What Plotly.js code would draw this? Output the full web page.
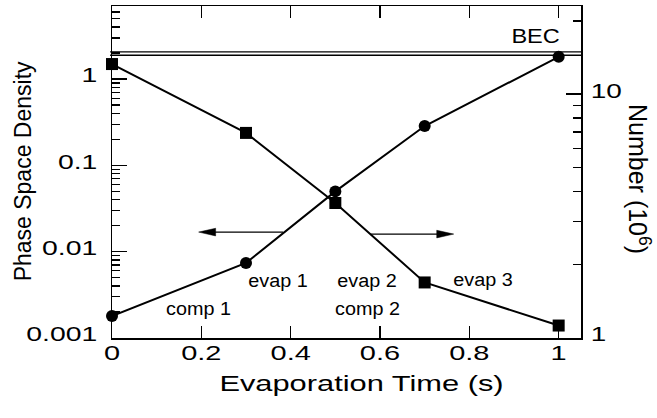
<!DOCTYPE html>
<html>
<head>
<meta charset="utf-8">
<script src="https://cdn.plot.ly/plotly-3.0.1.min.js"></script>
<style>
  html, body { margin: 0; padding: 0; background: #fff; }
  #chart { width: 657px; height: 418px; }
</style>
</head>
<body>
<div id="chart"></div>
<script>
// Evaporation sequence: time (s) vs phase space density and atom number
const evapTime = [0, 0.3, 0.5, 0.7, 1];
const phaseSpaceDensity = [0.0018, 0.0074, 0.05, 0.286, 1.81];
const atomNumber = [13.3, 6.94, 3.58, 1.69, 1.125];   // in units of 10^6

const xTickVals = [0, 0.2, 0.4, 0.6, 0.8, 1];
const xTickText = ['0', '0.2', '0.4', '0.6', '0.8', '1'];
const psdTickVals = [0.001, 0.01, 0.1, 1];
const psdTickText = ['0.001', '0.01', '0.1', '1'];
const numTickVals = [1, 10];
const numTickText = ['1', '10'];

// BEC threshold band (phase space density)
const becLevels = [1.89, 2.07];

// minor log ticks at 2..9 within each decade
function minorTicks(fromExp, toExp) {
  const out = [];
  for (let e = fromExp; e <= toExp; e++) {
    for (let m = 2; m <= 9; m++) out.push(m * Math.pow(10, e));
  }
  return out;
}

const FONT = 'Liberation Sans, Arial, Helvetica, sans-serif';
const BLACK = '#000';

const traces = [
  {
    x: evapTime, y: phaseSpaceDensity, yaxis: 'y',
    type: 'scatter', mode: 'lines+markers', cliponaxis: false,
    line: { color: BLACK, width: 2 },
    marker: { symbol: 'circle', size: 12, color: BLACK }
  },
  {
    x: evapTime, y: atomNumber, yaxis: 'y2',
    type: 'scatter', mode: 'lines+markers', cliponaxis: false,
    line: { color: BLACK, width: 2 },
    marker: { symbol: 'square', size: 12, color: BLACK }
  }
];

const shapes = becLevels.map(v => ({
  type: 'line', xref: 'paper', yref: 'y',
  x0: -0.004, x1: 1.004, y0: v, y1: v,
  line: { color: BLACK, width: 1.3 }
}));

// direction arrows: left one points at the density axis, right one at the number axis
shapes.push(
  { type: 'line', xref: 'x', yref: 'paper', x0: 0.225, x1: 0.383, y0: 0.319, y1: 0.319,
    line: { color: BLACK, width: 1.3 } },
  { type: 'path', xref: 'x', yref: 'paper',
    path: 'M0.194,0.319 L0.232,0.3305 L0.232,0.3075 Z',
    fillcolor: BLACK, line: { color: BLACK, width: 0.5 } },
  { type: 'line', xref: 'x', yref: 'paper', x0: 0.578, x1: 0.735, y0: 0.313, y1: 0.313,
    line: { color: BLACK, width: 1.3 } },
  { type: 'path', xref: 'x', yref: 'paper',
    path: 'M0.765,0.313 L0.727,0.3245 L0.727,0.3015 Z',
    fillcolor: BLACK, line: { color: BLACK, width: 0.5 } }
);

function label(text, x, y, size) {
  return { text: text, xref: 'x', yref: 'paper', x: x, y: y,
    xanchor: 'center', yanchor: 'middle', showarrow: false,
    font: { family: FONT, size: size, color: BLACK } };
}

const annotations = [
  { text: 'Evaporation Time (s)', xref: 'paper', yref: 'paper', x: 0.531, y: -0.138,
    xanchor: 'center', yanchor: 'middle', showarrow: false,
    font: { family: FONT, size: 22, color: BLACK } },
  { text: 'Phase Space Density', xref: 'paper', yref: 'paper', x: -0.189, y: 0.503,
    xanchor: 'center', yanchor: 'middle', showarrow: false, textangle: -90,
    font: { family: FONT, size: 23, color: BLACK } },
  { text: 'Number (10<sup>6</sup>)', xref: 'paper', yref: 'paper', x: 1.125, y: 0.48,
    xanchor: 'center', yanchor: 'middle', showarrow: false, textangle: 90,
    font: { family: FONT, size: 25, color: BLACK } },
  label('comp 1', 0.193, 0.087, 18),
  label('evap 1', 0.372, 0.172, 18),
  label('evap 2', 0.571, 0.172, 18),
  label('comp 2', 0.573, 0.087, 18),
  label('evap 3', 0.830, 0.175, 18),
  label('BEC', 0.949, 0.912, 21)
];

const axisCommon = {
  showgrid: false, zeroline: false,
  showline: true, linecolor: BLACK, linewidth: 1.5,
  ticks: 'inside', tickcolor: BLACK, tickwidth: 1.5,
  tickmode: 'array',
  tickfont: { family: FONT, size: 21, color: BLACK }
};

const layout = {
  width: 657, height: 418,
  margin: { l: 112, r: 76, t: 6, b: 80, pad: 0 },
  paper_bgcolor: '#fff', plot_bgcolor: '#fff',
  showlegend: false,
  font: { family: FONT, color: BLACK },
  xaxis: Object.assign({}, axisCommon, {
    range: [0, 1.05], tickvals: xTickVals, ticktext: xTickText,
    ticklen: 12, mirror: 'ticks', ticklabelstandoff: -5
  }),
  yaxis: Object.assign({}, axisCommon, {
    type: 'log', range: [-3, 0.847],
    tickvals: psdTickVals, ticktext: psdTickText, ticklen: 15,
    ticklabelstandoff: 9, ticklabelshift: -4,
    minor: { tickmode: 'array', tickvals: minorTicks(-3, 0), ticks: 'inside',
             ticklen: 8, tickwidth: 1.3, tickcolor: BLACK }
  }),
  yaxis2: Object.assign({}, axisCommon, {
    type: 'log', range: [0, 1.362], overlaying: 'y', side: 'right',
    tickvals: numTickVals, ticktext: numTickText, ticklen: 15,
    ticklabelstandoff: 4, ticklabelshift: -4,
    minor: { tickmode: 'array', tickvals: minorTicks(0, 1), ticks: 'inside',
             ticklen: 8, tickwidth: 1.3, tickcolor: BLACK }
  }),
  shapes: shapes,
  annotations: annotations
};

// broaden the lettering horizontally (wide, extended sans look) while keeping anchors
function widen(selector, factor) {
  document.querySelectorAll('#chart ' + selector).forEach(t => {
    const len = t.getComputedTextLength();
    if (len > 0) {
      t.setAttribute('textLength', (len * factor).toFixed(1));
      t.setAttribute('lengthAdjust', 'spacingAndGlyphs');
    }
  });
}

Plotly.newPlot('chart', traces, layout, { staticPlot: true, displayModeBar: false }).then(() => {
  widen('.xtick text', 1.38);
  widen('.ytick text', 1.35);
  widen('.y2tick text', 1.33);
  widen('.annotation[data-index="0"] .annotation-text', 1.4);
  for (let i = 3; i <= 7; i++) widen('.annotation[data-index="' + i + '"] .annotation-text', 1.1);
  widen('.annotation[data-index="8"] .annotation-text', 1.12);
});
</script>
</body>
</html>
